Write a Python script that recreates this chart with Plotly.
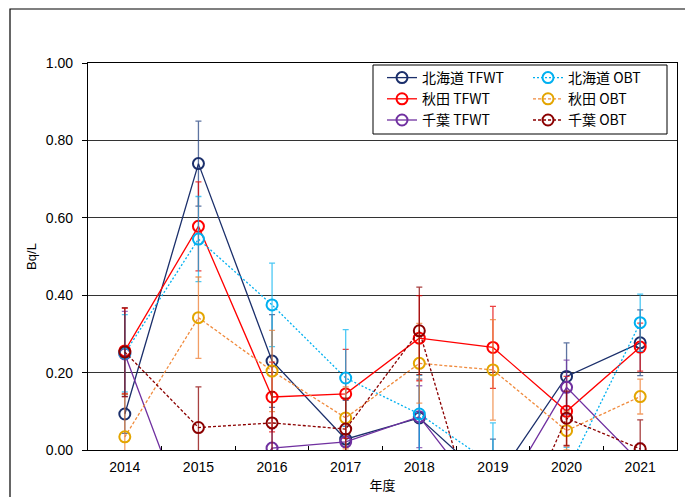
import plotly.graph_objects as go

# Annual tritium concentrations (Bq/L) with measurement uncertainty
years = [2014, 2015, 2016, 2017, 2018, 2019, 2020, 2021]

hokkaido_tfwt = [0.093, 0.740, 0.230, 0.028, 0.083, -0.090, 0.190, 0.277]
hokkaido_tfwt_err = [0.050, 0.110, 0.120, 0.100, 0.100, 0.118, 0.087, 0.085]

hokkaido_obt = [0.250, 0.545, 0.375, 0.186, 0.093, -0.038, -0.058, 0.329]
hokkaido_obt_err = [0.100, 0.110, 0.108, 0.125, 0.100, 0.108, 0.065, 0.074]

akita_tfwt = [0.256, 0.578, 0.137, 0.145, 0.289, 0.265, 0.100, 0.266]
akita_tfwt_err = [0.110, 0.115, 0.090, 0.115, 0.110, 0.106, 0.090, 0.062]

akita_obt = [0.034, 0.342, 0.204, 0.083, 0.224, 0.207, 0.050, 0.138]
akita_obt_err = [0.110, 0.105, 0.105, 0.080, 0.103, 0.130, 0.050, 0.045]

chiba_tfwt = [0.248, -0.260, 0.005, 0.021, 0.086, -0.160, 0.162, -0.032]
chiba_tfwt_err = [0.110, 0.100, 0.050, 0.040, 0.080, 0.100, 0.070, 0.050]

chiba_obt = [0.253, 0.058, 0.070, 0.054, 0.308, -0.340, 0.082, 0.003]
chiba_obt_err = [0.115, 0.105, 0.080, 0.080, 0.113, 0.100, 0.070, 0.075]

y_ticks = [0.0, 0.2, 0.4, 0.6, 0.8, 1.0]

# name, values, errors, line colour, marker colour, dash, error colour, legend column
series = [
    ("北海道 TFWT", hokkaido_tfwt, hokkaido_tfwt_err, "#1B2F6B", "#1B2F6B", "solid", "rgba(40,70,130,0.75)", "legend"),
    ("秋田 TFWT", akita_tfwt, akita_tfwt_err, "#FF0000", "#FF0000", "solid", "rgba(230,0,0,0.75)", "legend"),
    ("千葉 TFWT", chiba_tfwt, chiba_tfwt_err, "#7030A0", "#7030A0", "solid", "rgba(112,48,160,0.7)", "legend"),
    ("北海道 OBT", hokkaido_obt, hokkaido_obt_err, "#00B0F0", "#00B0F0", "2px,2px", "rgba(0,176,240,0.7)", "legend2"),
    ("秋田 OBT", akita_obt, akita_obt_err, "#F08A3C", "#E3A500", "3px,2px", "rgba(237,125,49,0.75)", "legend2"),
    ("千葉 OBT", chiba_obt, chiba_obt_err, "#8B0000", "#8B0000", "3px,2px", "rgba(139,0,0,0.75)", "legend2"),
]

fig = go.Figure()
for name, vals, errs, line_c, mark_c, dash, err_c, leg in series:
    fig.add_trace(go.Scatter(
        x=years, y=vals, name=name, mode="lines+markers", legend=leg,
        line=dict(color=line_c, width=1.3, dash=dash),
        marker=dict(symbol="circle-open", size=11, color=mark_c,
                    line=dict(color=mark_c, width=2)),
        error_y=dict(type="data", array=errs, visible=True,
                     color=err_c, thickness=1.3, width=3),
    ))

font_main = "Liberation Sans, Arial, Noto Sans CJK JP, sans-serif"
font_jp = "Noto Sans CJK JP, Liberation Sans, sans-serif"

W, H = 685, 497
ml, mr, mt, mb = 88, 8, 63, 47
pw, ph = W - ml - mr, H - mt - mb


def px_x(px):
    return (px - ml) / pw


def px_y(py):
    return 1 - (py - mt) / ph


# outer chart frame (left and top edges visible)
fig.add_shape(type="rect", xref="paper", yref="paper",
              x0=px_x(10), x1=px_x(W + 40), y0=px_y(H + 40), y1=px_y(9),
              line=dict(color="#000000", width=1.2), layer="below")

# frame round the two-column legend
fig.add_shape(type="rect", xref="paper", yref="paper",
              x0=px_x(373), x1=px_x(667), y0=px_y(134), y1=px_y(65),
              line=dict(color="#000000", width=1), fillcolor="white", layer="above")

legend_common = dict(
    xanchor="left", yanchor="top", bgcolor="rgba(0,0,0,0)", borderwidth=0,
    font=dict(family=font_jp, size=14, color="#000000"), tracegroupgap=0,
)

fig.update_layout(
    width=W, height=H,
    margin=dict(l=ml, r=mr, t=mt, b=mb),
    paper_bgcolor="white", plot_bgcolor="white",
    font=dict(family=font_main, size=13, color="#000000"),
    showlegend=True,
    legend=dict(x=px_x(382), y=px_y(62), **legend_common),
    legend2=dict(x=px_x(528), y=px_y(62), **legend_common),
    xaxis=dict(
        range=[2013.5, 2021.5], tickvals=years,
        ticktext=[str(y) for y in years],
        ticks="", showgrid=False, zeroline=False,
        showline=True, linecolor="#000000", linewidth=1.2, mirror=True,
        tickfont=dict(family=font_main, size=14), ticklabelstandoff=4,
        minor=dict(tickvals=[y + 0.5 for y in years[:-1]], ticks="inside",
                   ticklen=4, tickcolor="#000000", showgrid=False),
        title=dict(text="年度", font=dict(family=font_jp, size=13), standoff=6),
    ),
    yaxis=dict(
        range=[0, 1.0], tickvals=y_ticks, tickformat=".2f",
        ticks="outside", ticklen=5, tickcolor="#000000",
        showgrid=True, gridcolor="#333333", gridwidth=1, zeroline=False,
        showline=True, linecolor="#000000", linewidth=1.2, mirror=True,
        tickfont=dict(family=font_main, size=14), ticklabelstandoff=6,
        title=dict(text="Bq/L", font=dict(family=font_main, size=13), standoff=6),
    ),
)

fig.write_html("out.html")
